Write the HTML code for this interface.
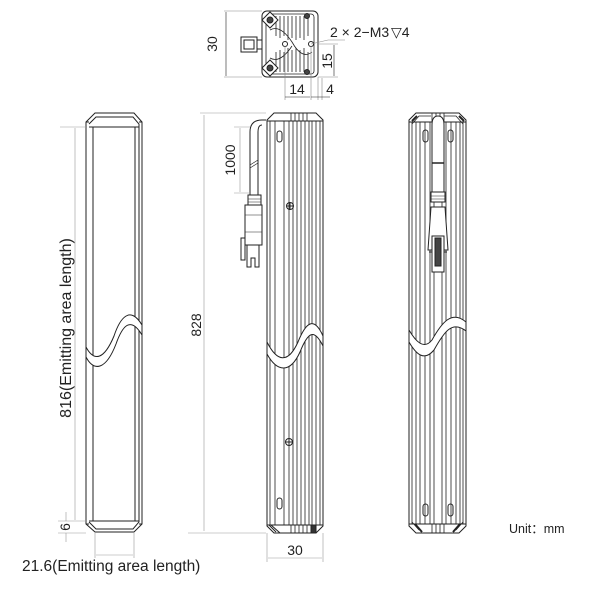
<!DOCTYPE html>
<html><head><meta charset="utf-8"><style>
html,body{margin:0;padding:0;background:#fff}
svg{display:block}
text{font-family:"Liberation Sans",sans-serif;fill:#222}
</style></head><body>
<svg width="614" height="589" viewBox="0 0 614 589" xmlns="http://www.w3.org/2000/svg">
<g fill="none" stroke="#222" stroke-width="1">

<!-- ===== TOP VIEW ===== -->
<g>
<rect x="262" y="11" width="56" height="66" rx="5" fill="#fff"/>
<rect x="266" y="14" width="48" height="60" rx="3" stroke-width="0.8"/>
<g stroke-width="0.8">
<path d="M276 16 v20 M280 16 v22 M284 16 v20 M288 16 v24 M292 16 v22 M296 16 v24 M300 16 v22 M304 16 v24 M308 16 v20"/>
<path d="M276 72 v-20 M280 72 v-22 M284 72 v-20 M288 72 v-24 M292 72 v-22 M296 72 v-24 M300 72 v-22 M304 72 v-24 M308 72 v-20"/>
<path d="M270 30 q10 -6 22 12 q10 18 20 10 M270 58 q10 6 22 -12"/>
</g>
<polygon points="262,20 270,12 278,20 270,28" fill="#fff"/>
<polygon points="262,68 270,60 278,68 270,76" fill="#fff"/>
<circle cx="270" cy="20" r="3" fill="#444"/>
<circle cx="270" cy="68" r="3" fill="#444"/>
<circle cx="307" cy="16" r="2.5" fill="#444"/>
<circle cx="307" cy="72" r="2.5" fill="#444"/>
<circle cx="285" cy="44" r="2.5"/>
<circle cx="311" cy="44" r="2.5"/>
<rect x="241" y="37" width="16" height="15" fill="#fff"/>
<rect x="244" y="40" width="10" height="9"/>
<rect x="257" y="40" width="5" height="9"/>
<path d="M224 11 H262 M224 77 H262" stroke="#888" stroke-width="0.6"/>
<path d="M226 12 V76" stroke-width="0.6"/>
<path d="M311 44 L328 40 H345 M318 44 H338 M318 77 H338" stroke="#888" stroke-width="0.6"/>
<path d="M334 45 V76" stroke-width="0.6"/>
<path d="M285 46 V100 M311 46 V100 M318 77 V100 M322 78 V100" stroke="#888" stroke-width="0.6"/>
<path d="M285 97 H310 M311 97 H330" stroke-width="0.6"/>
</g>

<!-- ===== LEFT BAR ===== -->
<g>
<path d="M86 122 L95 113 H134 L142 122 V524 L134 532 H95 L86 524 Z" fill="#fff"/>
<path d="M89 124 L96 117 H133 L139 124 V522 L133 529 H96 L89 522"/>
<path d="M89 127 H139 M89 521 H139"/>
<path d="M93 127 V521 M135 127 V521"/>
<path d="M86 122 H89 M142 122 H139 M86 524 H89 M142 524 H139"/>
<path d="M86 347 C94 362 104 360 114 336 C120 318 130 305 142 325 V335 C130 315 122 327 116 344 C106 370 94 372 86 357 Z" fill="#fff"/>
<path d="M60 127 H86 M58 521 H86 M58 533 H86" stroke="#999" stroke-width="0.6"/>
<path d="M75 128 V520" stroke="#999" stroke-width="0.6"/>
<path d="M66 512 V521 M66 533 V542" stroke="#999" stroke-width="0.6"/>
<path d="M95 533 V558 M134 533 V558" stroke="#999" stroke-width="0.6"/>
<path d="M96 555 H133" stroke="#999" stroke-width="0.6"/>
</g>

<!-- ===== MIDDLE VIEW ===== -->
<g>
<path d="M267 120 L274 113 H316 L323 120 V526 L316 533 H274 L267 526 Z" fill="#fff"/>
<path d="M267 121 H323 M267 525 H323"/>
<g stroke-width="0.8">
<path d="M270 121 V525 M275 121 V525 M284 121 V525 M289 121 V525 M293 121 V525 M297 121 V525 M301 121 V525 M305 121 V525 M309 121 V525 M312 121 V525 M316 121 V525 M320 121 V525"/>
<path d="M291 113 v8 M295 113 v8 M299 113 v8 M303 113 v8 M307 113 v8 M291 525 v8 M295 525 v8 M299 525 v8 M303 525 v8 M307 525 v8"/>
</g>
<path d="M311 525 h5 v8 h-5z" fill="#333"/>
<path d="M269 525 L276 532 M271 525 L280 533" />
<rect x="277" y="131" width="5" height="11" rx="2.5"/>
<rect x="277" y="498" width="5" height="11" rx="2.5"/>
<circle cx="290" cy="206" r="3.5"/><path d="M290 202.5 v7 M286.5 206 h7"/>
<circle cx="289" cy="442" r="3.5"/><path d="M289 438.5 v7 M285.5 442 h7"/>
<path d="M267 342 C277 362 288 364 298 342 C306 322 314 316 323 336 V346 C314 328 308 332 300 352 C290 374 277 372 267 354 Z" fill="#fff"/>
<path d="M266 120 H262 Q250 120 250 132 V195 M262 125 Q258 125 258 132 V195"/>
<path d="M250 165 L258 160 M250 168 L258 163" stroke-width="0.6"/>
<rect x="248" y="195" width="13" height="10"/>
<path d="M248 199 H261 M248 202 H261" stroke-width="0.6"/>
<rect x="245" y="205" width="17" height="40"/>
<path d="M245 215 H262 M245 232 H262" stroke-width="0.6"/>
<rect x="241" y="238" width="4" height="22"/>
<path d="M247 245 V267 H251 V258 H255 V267 H259 V245"/>
<path d="M200 113 H266 M188 533 H266" stroke="#999" stroke-width="0.6"/>
<path d="M204 115 V531" stroke="#999" stroke-width="0.6"/>
<path d="M234 127 H250 M234 193 H250" stroke="#999" stroke-width="0.6"/>
<path d="M240 128 V192" stroke="#999" stroke-width="0.6"/>
<path d="M267 533 V562 M323 533 V562" stroke="#999" stroke-width="0.6"/>
<path d="M268 558 H322" stroke="#999" stroke-width="0.6"/>
</g>

<!-- ===== RIGHT VIEW ===== -->
<g>
<path d="M409 120 L416 113 H459 L466 120 V526 L459 533 H416 L409 526 Z" fill="#fff"/>
<path d="M409 122 H466 M409 524 H466"/>
<g stroke-width="0.8">
<path d="M412 122 V524 M416 122 V524 M420 122 V524 M425 122 V524 M430 122 V524 M434 122 V524 M442 122 V524 M446 122 V524 M451 122 V524 M456 122 V524 M460 122 V524 M463 122 V524"/>
<path d="M432 113 v9 M436 113 v9 M440 113 v9 M444 113 v9 M432 524 v9 M436 524 v9 M440 524 v9 M444 524 v9"/>
<path d="M412 124 L419 116 H431 M463 124 L456 116 H444 M412 522 L419 530 M463 522 L456 530"/>
</g>
<path d="M417 116 L412 121 M459 116 L464 121" stroke-width="2"/>
<path d="M415 524 L422 532 M460 524 L453 532" stroke-width="2"/>
<rect x="423" y="130" width="5" height="12" rx="2.5"/>
<rect x="448" y="130" width="5" height="12" rx="2.5"/>
<rect x="423" y="504" width="5" height="12" rx="2.5"/>
<rect x="448" y="504" width="5" height="12" rx="2.5"/>
<path d="M432 125 Q432 116 438 116 Q444 116 444 125 V195 H432 V125 Z" fill="#fff"/>
<path d="M432 163 H444" stroke-width="1.5"/>
<rect x="431" y="192" width="14" height="10" fill="#fff"/>
<path d="M431 196 H445 M431 199 H445" stroke-width="0.6"/>
<path d="M431 207 L428 250 H448 L445 207 Z" fill="#fff"/>
<rect x="432" y="236" width="12" height="36" fill="#fff"/>
<rect x="435" y="238" width="6" height="28" fill="#444"/>
<path d="M429 252 h3 M444 252 h3"/>
<path d="M409 330 C416 342 424 350 432 340 C442 322 452 310 466 322 V331 C452 320 444 332 434 350 C424 362 416 354 409 342 Z" fill="#fff"/>
</g>
</g>

<!-- ===== TEXT ===== -->
<text x="0" y="0" font-size="14" transform="translate(217,44) rotate(-90)" text-anchor="middle">30</text>
<text x="330" y="37" font-size="14">2 × 2−M3</text>
<text x="391" y="37" font-size="14">▽4</text>
<text x="0" y="0" font-size="14" transform="translate(332,61) rotate(-90)" text-anchor="middle">15</text>
<text x="297" y="94" font-size="14" text-anchor="middle">14</text>
<text x="330" y="94" font-size="14" text-anchor="middle">4</text>
<text x="0" y="0" font-size="16" transform="translate(71,328) rotate(-90)" text-anchor="middle">816(Emitting area length)</text>
<text x="0" y="0" font-size="14" transform="translate(70,527) rotate(-90)" text-anchor="middle">6</text>
<text x="22" y="571" font-size="15.5">21.6(Emitting area length)</text>
<text x="0" y="0" font-size="14" transform="translate(201,325) rotate(-90)" text-anchor="middle">828</text>
<text x="0" y="0" font-size="14" transform="translate(235,160) rotate(-90)" text-anchor="middle">1000</text>
<text x="295" y="555" font-size="14" text-anchor="middle">30</text>
<text x="509" y="533" font-size="12.5">Unit：mm</text>
</svg>
</body></html>
